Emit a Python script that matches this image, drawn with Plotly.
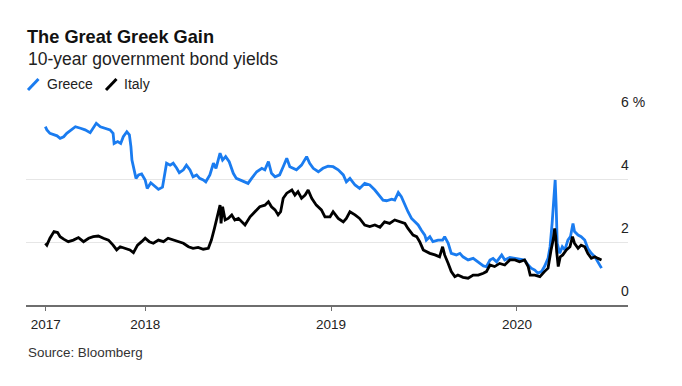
import plotly.graph_objects as go

# ---------------- data ----------------
greece_dates = [
    "2017-06-19", "2017-06-22", "2017-06-28", "2017-07-05", "2017-07-12", "2017-07-18", "2017-07-25",
    "2017-07-31", "2017-08-07", "2017-08-17", "2017-08-27", "2017-09-05", "2017-09-15", "2017-09-21",
    "2017-09-27", "2017-10-05", "2017-10-15", "2017-10-24", "2017-10-30", "2017-11-01", "2017-11-08",
    "2017-11-14", "2017-11-19", "2017-11-26", "2017-12-01", "2017-12-04", "2017-12-06", "2017-12-10",
    "2017-12-14", "2017-12-19", "2017-12-25", "2018-01-01", "2018-01-05", "2018-01-12", "2018-01-19",
    "2018-01-27", "2018-02-04", "2018-02-07", "2018-02-12", "2018-02-19", "2018-02-25", "2018-03-04",
    "2018-03-09", "2018-03-17", "2018-03-23", "2018-03-30", "2018-04-05", "2018-04-12", "2018-04-18",
    "2018-04-25", "2018-04-30", "2018-05-08", "2018-05-15", "2018-05-20", "2018-05-24", "2018-05-28",
    "2018-06-02", "2018-06-08", "2018-06-15", "2018-06-23", "2018-06-29", "2018-07-06", "2018-07-12",
    "2018-07-22", "2018-07-29", "2018-08-08", "2018-08-18", "2018-08-24", "2018-08-31", "2018-09-06",
    "2018-09-13", "2018-09-22", "2018-09-29", "2018-10-06", "2018-10-12", "2018-10-19", "2018-10-25",
    "2018-11-04", "2018-11-14", "2018-11-20", "2018-11-27", "2018-12-07", "2018-12-16", "2018-12-26",
    "2019-01-05", "2019-01-15", "2019-01-25", "2019-01-31",
    "2019-02-07", "2019-02-17", "2019-02-26", "2019-03-08", "2019-03-18", "2019-03-28", "2019-04-07",
    "2019-04-13", "2019-04-20", "2019-04-30", "2019-05-06", "2019-05-13", "2019-05-19", "2019-05-26",
    "2019-06-01", "2019-06-08", "2019-06-14", "2019-06-21", "2019-06-27", "2019-07-04", "2019-07-07",
    "2019-07-14", "2019-07-20", "2019-07-30", "2019-08-08", "2019-08-12", "2019-08-19", "2019-08-25",
    "2019-09-04", "2019-09-11", "2019-09-17", "2019-09-27", "2019-10-07", "2019-10-17", "2019-10-27",
    "2019-11-02", "2019-11-09", "2019-11-15", "2019-11-22", "2019-12-02", "2019-12-08", "2019-12-18",
    "2019-12-28", "2020-01-06", "2020-01-16", "2020-01-23", "2020-01-29", "2020-02-05", "2020-02-11",
    "2020-02-18", "2020-02-24", "2020-03-02", "2020-03-06", "2020-03-10", "2020-03-13", "2020-03-16",
    "2020-03-18", "2020-03-20", "2020-03-25", "2020-03-30", "2020-04-04", "2020-04-10", "2020-04-15",
    "2020-04-20", "2020-04-23", "2020-04-30", "2020-05-06", "2020-05-13", "2020-05-19", "2020-05-26",
    "2020-06-02", "2020-06-08", "2020-06-15",
]
greece_yield = [
    5.66, 5.56, 5.45, 5.40, 5.37, 5.29, 5.34,
    5.45, 5.53, 5.66, 5.61, 5.56, 5.47, 5.61,
    5.77, 5.66, 5.61, 5.56, 5.45, 5.13, 5.19,
    5.13, 5.34, 5.50, 5.40, 5.03, 4.60, 4.34,
    4.02, 4.13, 4.16, 3.97, 3.70, 3.88, 3.78,
    3.67, 3.74, 4.07, 4.50, 4.44, 4.50, 4.34,
    4.20, 4.29, 4.44, 4.29, 4.07, 4.13, 4.02,
    3.97, 3.91, 4.13, 4.50, 4.34, 4.60, 4.82,
    4.60, 4.71, 4.55, 4.18, 4.02, 3.97, 3.91,
    3.86, 4.02, 4.23, 4.34, 4.29, 4.55, 4.18,
    4.07, 4.13, 4.39, 4.66, 4.39, 4.34, 4.29,
    4.44, 4.71, 4.50, 4.34, 4.23, 4.34, 4.41,
    4.39, 4.29, 4.13, 3.91,
    4.02, 3.81, 3.70, 3.86, 3.81, 3.65, 3.44,
    3.33, 3.31, 3.36, 3.33, 3.57, 3.44, 3.17,
    2.96, 2.75, 2.64, 2.54, 2.38, 2.22, 2.06,
    2.17, 2.01, 2.06, 2.06, 2.17, 1.96, 1.64,
    1.59, 1.64, 1.53, 1.43, 1.48, 1.37, 1.24,
    1.22, 1.43, 1.48, 1.37, 1.59, 1.43, 1.51,
    1.48, 1.45, 1.43, 1.27, 1.17, 1.11, 1.01,
    1.06, 1.22, 1.48, 1.85, 2.59, 3.44, 3.97,
    3.12, 1.96, 1.64, 1.85, 1.75, 2.06, 2.17,
    2.59, 2.33, 2.22, 2.17, 2.06, 1.80, 1.64,
    1.53, 1.37, 1.17,
]

italy_dates = [
    "2017-06-19", "2017-06-22", "2017-06-28", "2017-07-06", "2017-07-13", "2017-07-18", "2017-07-25",
    "2017-08-03", "2017-08-13", "2017-08-23", "2017-09-02", "2017-09-12", "2017-09-21", "2017-10-01",
    "2017-10-11", "2017-10-21", "2017-10-30", "2017-11-06", "2017-11-13", "2017-11-22", "2017-12-02",
    "2017-12-09", "2017-12-17", "2017-12-25", "2018-01-01", "2018-01-09", "2018-01-17", "2018-01-27",
    "2018-02-06", "2018-02-15", "2018-02-25", "2018-03-07", "2018-03-17", "2018-03-27", "2018-04-05",
    "2018-04-15", "2018-04-25", "2018-05-05", "2018-05-11", "2018-05-17", "2018-05-21", "2018-05-25",
    "2018-05-28", "2018-05-30", "2018-06-02", "2018-06-07", "2018-06-13", "2018-06-20", "2018-06-26",
    "2018-07-03", "2018-07-10", "2018-07-16", "2018-07-26", "2018-08-05", "2018-08-14", "2018-08-24",
    "2018-08-31", "2018-09-06", "2018-09-13", "2018-09-19", "2018-09-24", "2018-09-29", "2018-10-06",
    "2018-10-16", "2018-10-22", "2018-10-28", "2018-11-04", "2018-11-11", "2018-11-17", "2018-11-24",
    "2018-12-03", "2018-12-13", "2018-12-20", "2018-12-30", "2019-01-05", "2019-01-15", "2019-01-25",
    "2019-01-31",
    "2019-02-07", "2019-02-17", "2019-02-26", "2019-03-08", "2019-03-18", "2019-03-28", "2019-04-07",
    "2019-04-16", "2019-04-26", "2019-05-06", "2019-05-16", "2019-05-26", "2019-06-01", "2019-06-11",
    "2019-06-18", "2019-06-24", "2019-07-01", "2019-07-07", "2019-07-14", "2019-07-24", "2019-08-02",
    "2019-08-08", "2019-08-12", "2019-08-19", "2019-08-25", "2019-09-01", "2019-09-07", "2019-09-17",
    "2019-09-27", "2019-10-07", "2019-10-17", "2019-10-27", "2019-11-02", "2019-11-09", "2019-11-18",
    "2019-11-28", "2019-12-08", "2019-12-18", "2019-12-28", "2020-01-06", "2020-01-16", "2020-01-23",
    "2020-01-27", "2020-02-05", "2020-02-15", "2020-02-24", "2020-03-02", "2020-03-08", "2020-03-12",
    "2020-03-15", "2020-03-17", "2020-03-19", "2020-03-22", "2020-03-26", "2020-03-31", "2020-04-07",
    "2020-04-14", "2020-04-19", "2020-04-23", "2020-04-30", "2020-05-06", "2020-05-13", "2020-05-19",
    "2020-05-26", "2020-06-02", "2020-06-08", "2020-06-15",
]
italy_yield = [
    1.96, 1.90, 2.12, 2.33, 2.30, 2.17, 2.09,
    2.01, 2.06, 2.14, 2.01, 2.12, 2.17, 2.19,
    2.12, 2.06, 1.90, 1.75, 1.85, 1.80, 1.75,
    1.66, 1.90, 2.01, 2.12, 2.01, 1.96, 2.06,
    2.01, 2.12, 2.06, 2.01, 1.96, 1.85, 1.80,
    1.83, 1.77, 1.80, 2.06, 2.43, 2.70, 3.02,
    3.17, 2.59, 3.12, 2.70, 2.75, 2.86, 2.70,
    2.75, 2.64, 2.54, 2.80, 2.96, 3.12, 3.17,
    3.28, 3.12, 3.02, 2.86, 2.96, 3.39, 3.55,
    3.65, 3.49, 3.60, 3.39, 3.49, 3.65, 3.39,
    3.17, 3.02, 2.80, 2.80, 2.96, 2.75, 2.64,
    2.75,
    2.96, 2.86, 2.75, 2.54, 2.49, 2.54, 2.47,
    2.64, 2.59, 2.70, 2.64, 2.59, 2.43, 2.22,
    2.17, 2.01, 1.75, 1.69, 1.64, 1.59, 1.53,
    1.85, 1.59, 1.32, 1.06, 0.90, 0.95, 0.88,
    0.85, 0.95, 0.95, 1.01, 1.06, 1.27, 1.22,
    1.32, 1.27, 1.43, 1.43, 1.37, 1.43, 1.22,
    0.95, 0.95, 0.90, 1.06, 1.17, 1.75, 2.06,
    2.43, 2.17, 1.69, 1.22, 1.53, 1.59, 1.75,
    1.85, 2.17, 1.96, 1.80, 1.90, 1.85, 1.64,
    1.48, 1.53, 1.48, 1.43,
]

x_tickvals = ["2017-06-20", "2018-01-01", "2019-01-01", "2020-01-01"]
x_ticktext = ["2017", "2018", "2019", "2020"]
y_tickvals = [0, 2, 4, 6]
y_ticktext = ["0", "2", "4", "6 %"]
x_range = ["2017-05-12", "2020-08-06"]
y_range = [0, 6]

GREECE_COLOR = "#1a7cf0"
ITALY_COLOR = "#000000"
FONT = "Liberation Sans, Arial, sans-serif"

# ---------------- layout helpers ----------------
# The page body adds an 8px offset; the figure is sized to fit the 682x386 window.
OFF = 8
W, H = 682 - OFF, 386 - OFF
ML, MR, MT, MB = 18, 54, 108, 81
PW, PH = W - ML - MR, H - MT - MB


def px(xp):
    """screen x (reference pixels) -> paper x"""
    return (xp - OFF - ML) / PW


def py(yp):
    """screen y (reference pixels) -> paper y"""
    return (H - MB - (yp - OFF)) / PH


fig = go.Figure()
fig.add_trace(go.Scatter(x=greece_dates, y=greece_yield, mode="lines", name="Greece",
                         line=dict(color=GREECE_COLOR, width=2.8), showlegend=False, hoverinfo="skip"))
fig.add_trace(go.Scatter(x=italy_dates, y=italy_yield, mode="lines", name="Italy",
                         line=dict(color=ITALY_COLOR, width=2.8), showlegend=False, hoverinfo="skip"))

fig.update_layout(
    width=W, height=H,
    margin=dict(l=ML, r=MR, t=MT, b=MB),
    paper_bgcolor="white", plot_bgcolor="white",
    font=dict(family=FONT, color="#222222"),
    title=dict(text="<b>The Great Greek Gain</b>", x=(27 - OFF) / W, xanchor="left",
               y=1 - (37 - OFF) / H, yanchor="middle", font=dict(size=18.2, color="#111111", family=FONT)),
    xaxis=dict(type="date", range=x_range, showline=True, linecolor="#6e6e6e", linewidth=1.5,
               ticks="outside", ticklen=4, tickwidth=1, tickcolor="#6e6e6e",
               tickvals=x_tickvals, ticktext=x_ticktext, showgrid=False, zeroline=False,
               ticklabelstandoff=2,
               tickfont=dict(size=13.5, color="#222222")),
    yaxis=dict(range=y_range, side="right", tickvals=y_tickvals, ticktext=y_ticktext,
               showgrid=True, gridcolor="#e6e6e6", gridwidth=1, zeroline=False, showline=False,
               ticks="", ticklabelposition="outside top", ticklabelstandoff=-8, ticklabelshift=-4,
               tickfont=dict(size=14, color="#222222")),
    showlegend=False,
)

annotations = [
    dict(text="10-year government bond yields", x=px(26), y=py(59), xanchor="left", yanchor="middle",
         font=dict(size=17.5, color="#222222")),
    dict(text="Greece", x=px(45), y=py(84), xanchor="left", yanchor="middle",
         font=dict(size=14, color="#222222")),
    dict(text="Italy", x=px(122), y=py(84), xanchor="left", yanchor="middle",
         font=dict(size=14, color="#222222")),
    dict(text="Source: Bloomberg", x=px(26), y=py(352), xanchor="left", yanchor="middle",
         font=dict(size=13.4, color="#333333")),
]
for a in annotations:
    a.update(xref="paper", yref="paper", showarrow=False)
fig.update_layout(annotations=annotations)

# legend slashes
fig.add_shape(type="line", xref="paper", yref="paper", x0=px(28), y0=py(90), x1=px(38.5), y1=py(79),
              line=dict(color=GREECE_COLOR, width=3))
fig.add_shape(type="line", xref="paper", yref="paper", x0=px(106), y0=py(90), x1=px(116.5), y1=py(79),
              line=dict(color=ITALY_COLOR, width=3))

fig.write_html("out.html")
